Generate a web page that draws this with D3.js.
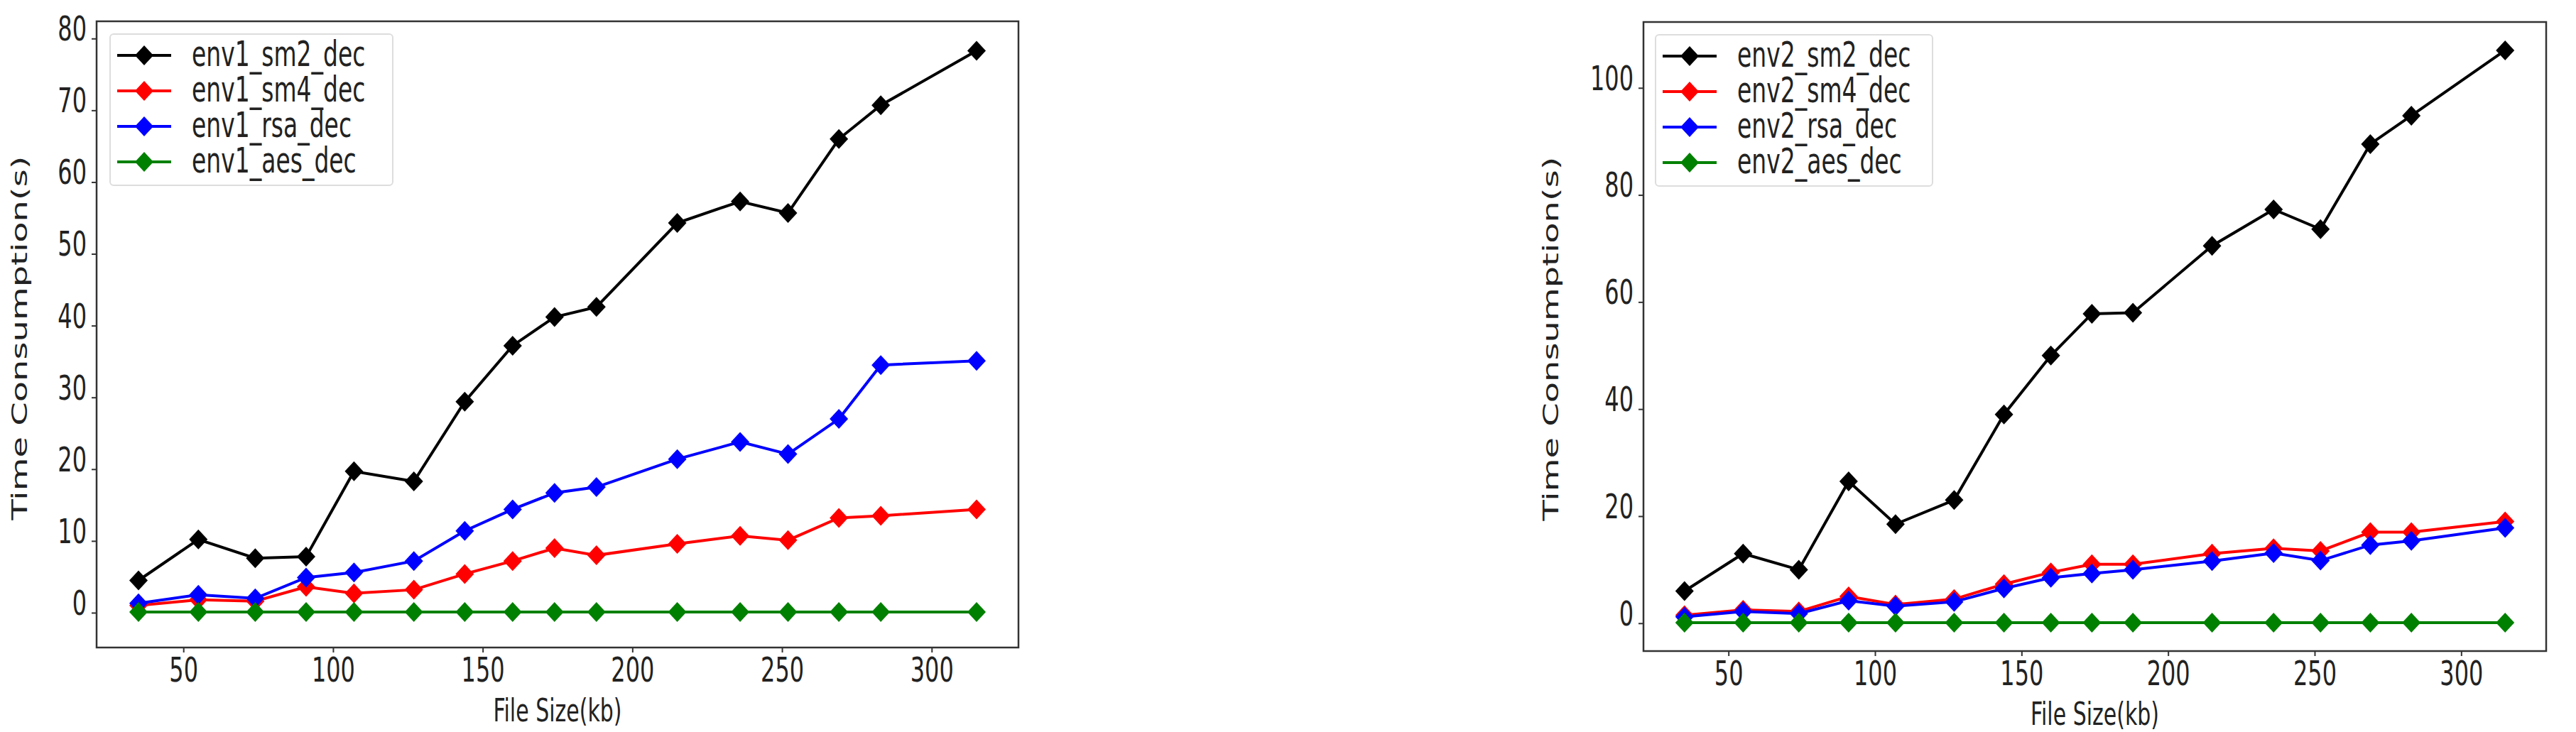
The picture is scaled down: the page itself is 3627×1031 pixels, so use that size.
<!DOCTYPE html>
<html>
<head>
<meta charset="utf-8">
<script src="https://cdn.jsdelivr.net/npm/d3@7"></script>
<style>
  body { margin: 0; background: #fff; }
  text { font-family: "DejaVu Sans", sans-serif; fill: #222; }
</style>
</head>
<body>
<div id="chart"></div>
<script>
// data
var fileSizes = [35, 55, 74, 91, 107, 127, 144, 160, 174, 188, 215, 236, 252, 269, 283, 315];

var env1Sm2 = [4.5, 10.2, 7.6, 7.8, 19.7, 18.3, 29.4, 37.2, 41.2, 42.6, 54.3, 57.3, 55.7, 66.0, 70.7, 78.3];
var env1Sm4 = [1.0, 1.8, 1.6, 3.6, 2.7, 3.2, 5.4, 7.2, 9.0, 8.0, 9.6, 10.7, 10.1, 13.2, 13.5, 14.4];
var env1Rsa = [1.3, 2.5, 2.0, 4.9, 5.6, 7.2, 11.4, 14.4, 16.7, 17.5, 21.4, 23.8, 22.1, 27.0, 34.5, 35.1];
var env1Aes = [0.1, 0.1, 0.1, 0.1, 0.1, 0.1, 0.1, 0.1, 0.1, 0.1, 0.1, 0.1, 0.1, 0.1, 0.1, 0.1];

var env2Sm2 = [6.0, 13.0, 10.0, 26.5, 18.5, 23.0, 39.0, 50.0, 57.8, 58.0, 70.5, 77.3, 73.6, 89.5, 94.8, 107.0];
var env2Sm4 = [1.5, 2.5, 2.2, 5.0, 3.5, 4.5, 7.3, 9.5, 11.0, 11.0, 13.0, 14.0, 13.5, 17.0, 17.0, 19.0];
var env2Rsa = [1.2, 2.2, 1.8, 4.2, 3.2, 4.0, 6.5, 8.5, 9.3, 10.0, 11.6, 13.1, 11.7, 14.6, 15.4, 17.8];
var env2Aes = [0.1, 0.1, 0.1, 0.1, 0.1, 0.1, 0.1, 0.1, 0.1, 0.1, 0.1, 0.1, 0.1, 0.1, 0.1, 0.1];

var seriesColors = ["#000000", "#ff0000", "#0000ff", "#008000"];
var xTicks = [50, 100, 150, 200, 250, 300];

var diamond = "M0,-14L13,0L0,14L-13,0Z";
var stretch = 1.5; // the source picture is stretched vertically

var svg = d3.select("#chart")
    .append("svg")
    .attr("width", 3627)
    .attr("height", 1031);

function drawPanel(opt) {
    var g = svg.append("g")
        .attr("transform", `translate(${opt.left}, ${opt.top})`);
    var width = opt.width, height = opt.height;

    var x = d3.scaleLinear().domain([21, 329]).range([0, width]);
    var y = d3.scaleLinear().domain(opt.yDomain).range([height, 0]);

    // axes
    var xa = g.append("g")
        .attr("transform", "translate(0," + height + ")")
        .call(d3.axisBottom(x).tickValues(xTicks).tickSize(7));
    xa.selectAll("text")
        .attr("y", 0)
        .attr("dy", "0.71em")
        .attr("transform", `translate(0,14) scale(1,${stretch})`);
    var ya = g.append("g")
        .call(d3.axisLeft(y).tickValues(opt.yTicks).tickSize(7));
    ya.selectAll("text")
        .attr("x", 0)
        .attr("dy", "0.05em")
        .attr("transform", `translate(-14,0) scale(1,${stretch})`);
    [xa, ya].forEach(a => {
        a.select(".domain").remove();
        a.selectAll("text").style("font-size", "32px").style("font-family", "DejaVu Sans").attr("fill", "#222");
        a.selectAll("line").attr("stroke", "#333").attr("stroke-width", 2);
    });

    // frame
    g.append("rect")
        .attr("width", width).attr("height", height)
        .attr("fill", "none").attr("stroke", "#333").attr("stroke-width", 2.5);

    // lines + markers
    var line = d3.line().x((d, i) => x(fileSizes[i])).y(d => y(d));
    opt.series.forEach((s, k) => {
        g.append("path")
            .datum(s)
            .attr("fill", "none")
            .attr("stroke", seriesColors[k])
            .attr("stroke-width", 4)
            .attr("d", line);
        g.selectAll(null)
            .data(s)
            .enter()
            .append("path")
            .attr("transform", (d, i) => `translate(${x(fileSizes[i])},${y(d)})`)
            .attr("d", diamond)
            .attr("fill", seriesColors[k]);
    });

    // legend
    var lg = g.append("g").attr("transform", `translate(${opt.legendX}, 18)`);
    lg.append("rect")
        .attr("width", opt.legendW).attr("height", 213).attr("rx", 5)
        .attr("fill", "#fff").attr("fill-opacity", 0.8)
        .attr("stroke", "#ddd").attr("stroke-width", 2);
    opt.names.forEach((n, k) => {
        var row = lg.append("g").attr("transform", `translate(0, ${30 + k * 50})`);
        row.append("line").attr("x1", 10).attr("x2", 86)
            .attr("stroke", seriesColors[k]).attr("stroke-width", 4);
        row.append("path").attr("transform", "translate(48,0)")
            .attr("d", diamond).attr("fill", seriesColors[k]);
        row.append("text")
            .attr("dy", "0.3em")
            .attr("transform", `translate(115,0) scale(1,${stretch})`)
            .style("font-size", "33px").text(n);
    });

    // labels
    g.append("text")
        .attr("text-anchor", "middle")
        .attr("dy", "0.35em")
        .attr("transform", `translate(${width / 2},${height + 88}) scale(1,${stretch})`)
        .style("font-size", "30px")
        .text("File Size(kb)");
    g.append("text")
        .attr("text-anchor", "middle")
        .attr("dy", "0.35em")
        .attr("transform", `translate(${opt.yLabelX},${opt.yLabelY}) rotate(-90) scale(1.6,1)`)
        .style("font-size", "30px")
        .text("Time Consumption(s)");
}

drawPanel({
    left: 136, top: 30, width: 1298, height: 882,
    yDomain: [-4.85, 82.4], yTicks: [0, 10, 20, 30, 40, 50, 60, 70, 80],
    series: [env1Sm2, env1Sm4, env1Rsa, env1Aes],
    names: ["env1_sm2_dec", "env1_sm4_dec", "env1_rsa_dec", "env1_aes_dec"],
    legendX: 19, legendW: 398, yLabelX: -109, yLabelY: 446
});

drawPanel({
    left: 2314, top: 31, width: 1271, height: 886,
    yDomain: [-5.2, 112.3], yTicks: [0, 20, 40, 60, 80, 100],
    series: [env2Sm2, env2Sm4, env2Rsa, env2Aes],
    names: ["env2_sm2_dec", "env2_sm4_dec", "env2_rsa_dec", "env2_aes_dec"],
    legendX: 17, legendW: 390, yLabelX: -131, yLabelY: 446
});
</script>
</body>
</html>
